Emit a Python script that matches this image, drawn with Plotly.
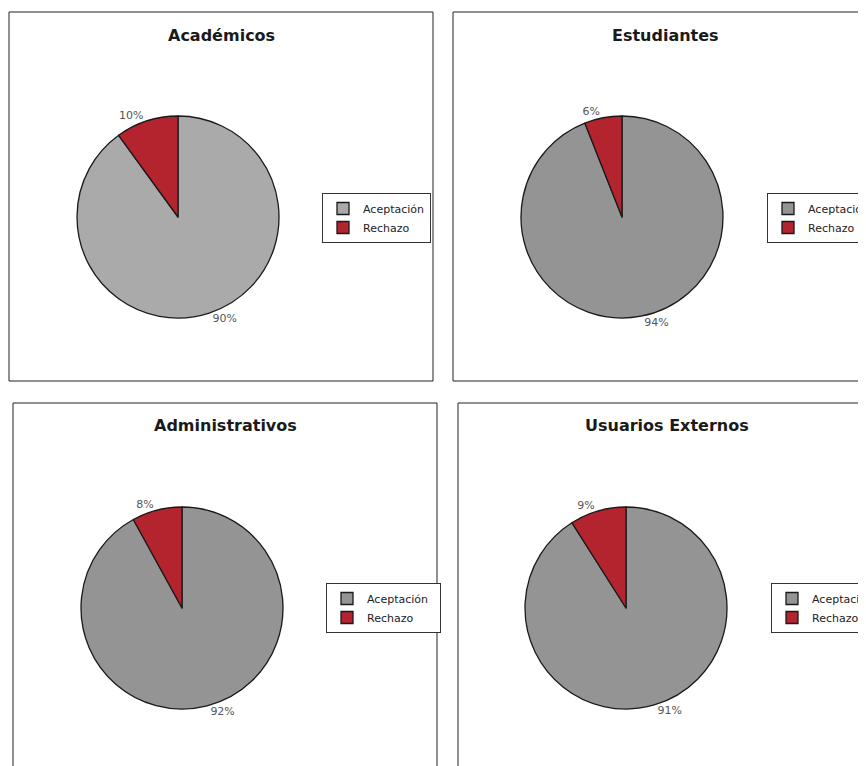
import plotly.graph_objects as go

W, H = 866, 766
OFF = 8  # page body margin offset

categories = ["Aceptación", "Rechazo"]
titles = ["Académicos", "Estudiantes", "Administrativos", "Usuarios Externos"]
aceptacion = [90, 94, 92, 91]
rechazo = [10, 6, 8, 9]
accept_colors = ["#aaaaaa", "#949494", "#949494", "#949494"]
reject_color = "#b3242f"

# layout geometry in screen pixels (panel boxes, pie centres, legend positions)
panels = [
    dict(box=(9, 12, 433, 381), cx=178, cy=217, legx=322, legy=193, tx=221, ty=35),
    dict(box=(453, 12, 890, 381), cx=622, cy=217, legx=767, legy=193, tx=665, ty=35),
    dict(box=(13, 403, 437, 790), cx=182, cy=608, legx=326, legy=583, tx=225, ty=425),
    dict(box=(458, 403, 890, 790), cx=626, cy=608, legx=771, legy=583, tx=667, ty=425),
]
R = 101

def px(x):
    return (x - OFF) / W

def py(y):
    return 1 - (y - OFF) / H

fig = go.Figure()
legend_names = ["legend", "legend2", "legend3", "legend4"]
layout_legends = {}
shapes = []
annotations = []
for i, p in enumerate(panels):
    # trailing spaces keep each pie's legend entries distinct (rendered invisibly)
    labels = [c + " " * i for c in categories]
    fig.add_trace(go.Pie(
        labels=labels,
        values=[aceptacion[i], rechazo[i]],
        sort=False,
        direction="clockwise",
        rotation=0,
        marker=dict(colors=[accept_colors[i], reject_color], line=dict(color="#1a1a1a", width=1.3)),
        textposition="outside",
        texttemplate="%{percent:.0%}",
        outsidetextfont=dict(family="DejaVu Sans", size=11, color="#555555"),
        domain=dict(x=[px(p["cx"] - R), px(p["cx"] + R)], y=[py(p["cy"] + R), py(p["cy"] - R)]),
        legend=legend_names[i],
        hoverinfo="skip",
        showlegend=True,
    ))
    layout_legends[legend_names[i]] = dict(
        x=px(p["legx"]), y=py(p["legy"]), xanchor="left", yanchor="top",
        bgcolor="white", bordercolor="#333333", borderwidth=1,
        font=dict(family="DejaVu Sans", size=11, color="#222222"),
        itemwidth=30, tracegroupgap=0,
    )
    x0, y0, x1, y1 = p["box"]
    shapes.append(dict(type="rect", xref="paper", yref="paper",
                       x0=px(x0), x1=px(x1), y0=py(y1), y1=py(y0),
                       line=dict(color="#222222", width=1)))
    annotations.append(dict(text="<b>%s</b>" % titles[i], x=px(p["tx"]), y=py(p["ty"]),
                            xref="paper", yref="paper", showarrow=False,
                            xanchor="center", yanchor="middle",
                            font=dict(family="DejaVu Sans", size=16, color="#1a1a1a")))

fig.update_layout(
    width=W, height=H,
    margin=dict(l=0, r=0, t=0, b=0, autoexpand=False),
    paper_bgcolor="white", plot_bgcolor="white",
    shapes=shapes, annotations=annotations,
    **layout_legends,
)
fig.write_html("out.html")
